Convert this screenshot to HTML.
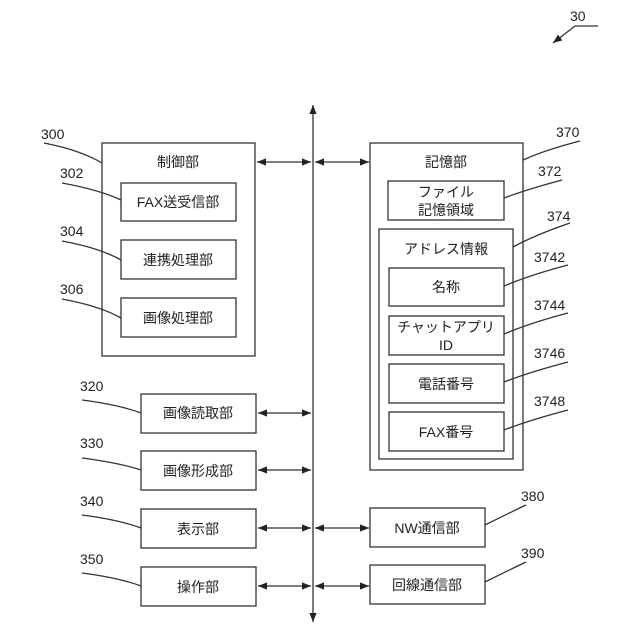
<!DOCTYPE html>
<html><head><meta charset="utf-8"><style>html,body{margin:0;padding:0;background:#fff}svg{display:block}text{font-family:"Liberation Sans","Noto Sans CJK JP",sans-serif;fill:#222}</style></head><body>
<svg width="640" height="640" viewBox="0 0 640 640" xmlns="http://www.w3.org/2000/svg">
<defs><marker id="a" viewBox="0 0 10 10" refX="10" refY="5" markerWidth="7" markerHeight="7" orient="auto-start-reverse"><path d="M0,1 L10,5 L0,9 Z" fill="#222"/></marker></defs>
<g stroke="#333" stroke-width="1.3" fill="none">
<line x1="313" y1="105" x2="313" y2="622" marker-start="url(#a)" marker-end="url(#a)"/>
<rect x="102" y="143" width="153" height="213"/>
<rect x="121" y="183" width="115" height="38"/>
<rect x="121" y="240" width="115" height="39"/>
<rect x="121" y="298" width="115" height="39"/>
<rect x="370" y="143" width="153" height="327"/>
<rect x="388" y="181" width="116" height="39"/>
<rect x="379" y="229" width="134" height="230"/>
<rect x="389" y="268" width="115" height="38"/>
<rect x="389" y="316" width="115" height="39"/>
<rect x="389" y="364" width="115" height="39"/>
<rect x="389" y="412" width="115" height="39"/>
<rect x="141" y="394" width="115" height="39"/>
<rect x="141" y="451" width="115" height="39"/>
<rect x="141" y="509" width="115" height="39"/>
<rect x="141" y="567" width="115" height="39"/>
<rect x="370" y="508" width="115" height="39"/>
<rect x="370" y="565" width="115" height="39"/>
<line x1="257" y1="162" x2="311" y2="162" marker-start="url(#a)" marker-end="url(#a)"/>
<line x1="315" y1="162" x2="369" y2="162" marker-start="url(#a)" marker-end="url(#a)"/>
<line x1="258" y1="413" x2="311" y2="413" marker-start="url(#a)" marker-end="url(#a)"/>
<line x1="258" y1="470" x2="311" y2="470" marker-start="url(#a)" marker-end="url(#a)"/>
<line x1="258" y1="528" x2="311" y2="528" marker-start="url(#a)" marker-end="url(#a)"/>
<line x1="258" y1="586" x2="311" y2="586" marker-start="url(#a)" marker-end="url(#a)"/>
<line x1="315" y1="528" x2="369" y2="528" marker-start="url(#a)" marker-end="url(#a)"/>
<line x1="315" y1="586" x2="369" y2="586" marker-start="url(#a)" marker-end="url(#a)"/>
<path d="M44,143 Q80,150 102,163"/>
<path d="M62,183 Q100,190 121,200"/>
<path d="M62,241 Q100,248 121,260"/>
<path d="M62,299 Q100,306 121,318"/>
<path d="M82,400 Q120,405 141,413"/>
<path d="M82,458 Q120,463 141,470"/>
<path d="M82,515 Q120,520 141,528"/>
<path d="M82,573 Q120,578 141,586"/>
<path d="M580,141 Q545,150 523,160"/>
<path d="M562,180 Q525,190 504,198"/>
<path d="M570,223 Q535,235 513,247"/>
<path d="M568,265 Q530,275 504,286"/>
<path d="M568,313 Q530,323 504,334"/>
<path d="M568,362 Q530,372 504,382"/>
<path d="M568,410 Q530,420 504,430"/>
<path d="M526,505 Q505,515 485,525"/>
<path d="M526,562 Q505,572 485,582"/>
<line x1="598" y1="26" x2="575" y2="26"/>
<line x1="575" y1="26" x2="553" y2="43" marker-end="url(#a)"/>
</g>
<g font-size="14" text-anchor="middle">
<text x="178" y="167">制御部</text>
<text x="178" y="207">FAX送受信部</text>
<text x="178" y="265">連携処理部</text>
<text x="178" y="323">画像処理部</text>
<text x="446" y="167">記憶部</text>
<text x="446" y="197">ファイル</text>
<text x="446" y="215">記憶領域</text>
<text x="446" y="254">アドレス情報</text>
<text x="446" y="292">名称</text>
<text x="446" y="332">チャットアプリ</text>
<text x="446" y="350">ID</text>
<text x="446" y="389">電話番号</text>
<text x="446" y="437">FAX番号</text>
<text x="198" y="418">画像読取部</text>
<text x="198" y="476">画像形成部</text>
<text x="198" y="534">表示部</text>
<text x="198" y="592">操作部</text>
<text x="427" y="533">NW通信部</text>
<text x="427" y="590">回線通信部</text>
</g>
<g font-size="14">
<text x="41" y="139">300</text>
<text x="60" y="178">302</text>
<text x="60" y="236">304</text>
<text x="60" y="294">306</text>
<text x="80" y="391">320</text>
<text x="80" y="448">330</text>
<text x="80" y="506">340</text>
<text x="80" y="564">350</text>
<text x="556" y="137">370</text>
<text x="538" y="176">372</text>
<text x="547" y="221">374</text>
<text x="534" y="262">3742</text>
<text x="534" y="310">3744</text>
<text x="534" y="358">3746</text>
<text x="534" y="406">3748</text>
<text x="521" y="501">380</text>
<text x="521" y="558">390</text>
<text x="570" y="21">30</text>
</g>
</svg>
</body></html>
